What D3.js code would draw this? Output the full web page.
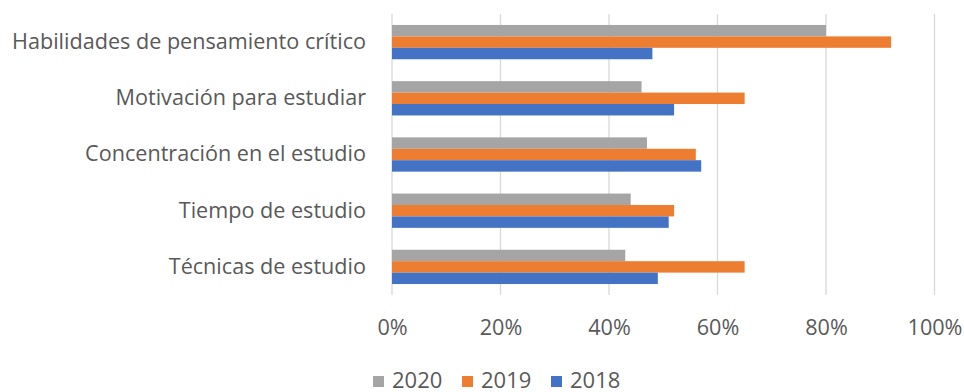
<!DOCTYPE html>
<html>
<head>
<meta charset="utf-8">
<script src="https://cdn.jsdelivr.net/npm/d3@7"></script>
<style>
  html, body { margin: 0; padding: 0; background: #fff; }
  svg { display: block; }
  text { font-family: "Open Sans", sans-serif; fill: #595959; }
</style>
</head>
<body>
<svg id="chart" width="964" height="392"></svg>
<script>
const categories = [
  "Habilidades de pensamiento crítico",
  "Motivación para estudiar",
  "Concentración en el estudio",
  "Tiempo de estudio",
  "Técnicas de estudio"
];
const seriesNames = ["2020", "2019", "2018"];
const values2020 = [80, 46, 47, 44, 43];
const values2019 = [92, 65, 56, 52, 65];
const values2018 = [48, 52, 57, 51, 49];
const tickValues = [0, 20, 40, 60, 80, 100];
const colors = ["#a5a5a5", "#ed7d31", "#4472c4"];

const seriesValues = [values2020, values2019, values2018];

const svg = d3.select("#chart");
const margin = { left: 392, right: 30, top: 14, bottom: 97 };
const W = 964, H = 392;

const x = d3.scaleLinear().domain([0, 100]).range([margin.left, 934.5]);
const y = d3.scaleBand().domain(categories)
  .range([margin.top, H - margin.bottom])
  .paddingInner(0.39).paddingOuter(0.195);
const ySub = d3.scaleBand().domain(seriesNames).range([0, y.bandwidth()]);

// gridlines
svg.append("g").selectAll("line").data(tickValues).join("line")
  .attr("x1", d => x(d)).attr("x2", d => x(d))
  .attr("y1", margin.top).attr("y2", H - margin.bottom)
  .attr("stroke", "#d9d9d9").attr("stroke-width", 1.3);

// bars
const groups = svg.append("g").selectAll("g").data(categories).join("g")
  .attr("transform", d => `translate(0,${y(d)})`);
groups.selectAll("rect")
  .data((c, i) => seriesNames.map((s, j) => ({ s, v: seriesValues[j][i], color: colors[j] })))
  .join("rect")
  .attr("x", x(0))
  .attr("y", d => ySub(d.s))
  .attr("width", d => x(d.v) - x(0))
  .attr("height", ySub.bandwidth())
  .attr("fill", d => d.color);

// category axis labels
const yAxis = d3.axisLeft(y).tickSize(0).tickPadding(26);
const gy = svg.append("g").attr("transform", `translate(${x(0)},0)`).call(yAxis);
gy.select(".domain").remove();
gy.selectAll("text").style("font-size", "21.6px").style("font-family", "'Open Sans', sans-serif").attr("fill", "#595959");

// x axis tick labels
const xAxis = d3.axisBottom(x).tickValues(tickValues).tickFormat(d => d + "%").tickSize(0).tickPadding(25);
const gx = svg.append("g").attr("transform", `translate(0,${H - margin.bottom})`).call(xAxis);
gx.select(".domain").remove();
gx.selectAll("text").style("font-size", "21.6px").style("font-family", "'Open Sans', sans-serif").attr("fill", "#595959");

// legend
const lg = svg.append("g").selectAll("g").data(seriesNames).join("g")
  .attr("transform", (d, i) => `translate(${373 + i * 89},376)`);
lg.append("rect").attr("width", 11).attr("height", 11).attr("fill", (d, i) => colors[i]);
lg.append("text").attr("x", 19).attr("y", 11.5).text(d => d)
  .style("font-size", "22px");
</script>
</body>
</html>
